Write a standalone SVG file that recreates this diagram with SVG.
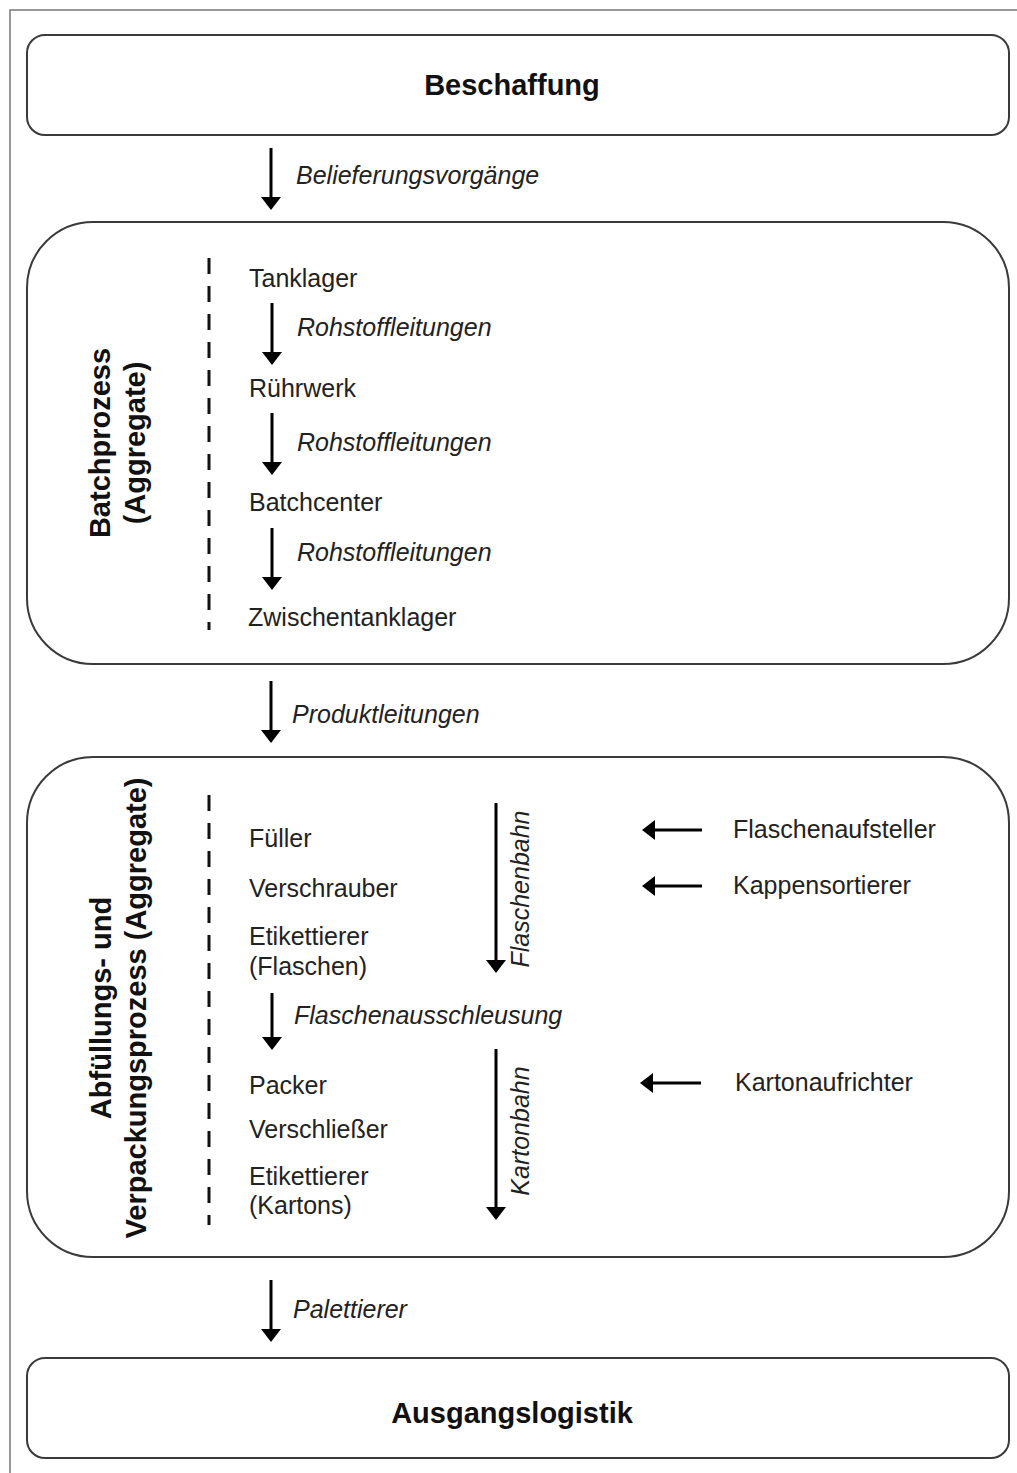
<svg xmlns="http://www.w3.org/2000/svg" width="1017" height="1473" viewBox="0 0 1017 1473">
<style>
.frame{fill:none;stroke:#777;stroke-width:1.5}
.box{fill:#fff;stroke:#3a3a3a;stroke-width:2}
.t{font-family:"Liberation Sans",Arial,sans-serif;font-size:25px;fill:#222}
.b{font-family:"Liberation Sans",Arial,sans-serif;font-size:29px;font-weight:bold;fill:#111}
.i{font-family:"Liberation Sans",Arial,sans-serif;font-size:25px;font-style:italic;fill:#222}
.dash{stroke:#111;stroke-width:3;stroke-dasharray:16 12;fill:none}
.arr{stroke:#000;stroke-width:3;fill:none;marker-end:url(#ah)}
</style>
<defs>
<marker id="ah" viewBox="0 -10 13 20" refX="3" refY="0" markerWidth="13" markerHeight="20" markerUnits="userSpaceOnUse" orient="auto">
<path d="M0,-10 L13,0 L0,10 z" fill="#000"/>
</marker>
</defs>
<rect width="1017" height="1473" fill="#fff"/>
<rect class="frame" x="10" y="10" width="1030" height="1490"/>

<g id="beschaffung">
<rect class="box" x="27" y="35" width="982" height="100" rx="18" ry="18"/>
<text class="b" x="512" y="95" text-anchor="middle">Beschaffung</text>
</g>

<g id="batchprozess">
<rect class="box" x="27" y="222" width="982" height="442" rx="66" ry="66"/>
<text class="b" transform="translate(110,443) rotate(-90)" text-anchor="middle">Batchprozess</text>
<text class="b" transform="translate(145,443) rotate(-90)" text-anchor="middle">(Aggregate)</text>
<line class="dash" x1="209" y1="258" x2="209" y2="630"/>
<text class="t" x="249" y="287">Tanklager</text>
<text class="t" x="249" y="397">Rührwerk</text>
<text class="t" x="249" y="511">Batchcenter</text>
<text class="t" x="248" y="626">Zwischentanklager</text>
</g>

<g id="abfuellung">
<rect class="box" x="27" y="757" width="982" height="500" rx="66" ry="66"/>
<text class="b" transform="translate(111,1008) rotate(-90)" text-anchor="middle">Abfüllungs- und</text>
<text class="b" transform="translate(146,1008) rotate(-90)" text-anchor="middle">Verpackungsprozess (Aggregate)</text>
<line class="dash" x1="209" y1="795" x2="209" y2="1225"/>
<text class="t" x="249" y="847">Füller</text>
<text class="t" x="249" y="897">Verschrauber</text>
<text class="t" x="249" y="945">Etikettierer</text>
<text class="t" x="249" y="975">(Flaschen)</text>
<text class="t" x="249" y="1094">Packer</text>
<text class="t" x="249" y="1138">Verschließer</text>
<text class="t" x="249" y="1185">Etikettierer</text>
<text class="t" x="249" y="1214">(Kartons)</text>
<text class="t" x="733" y="838">Flaschenaufsteller</text>
<text class="t" x="733" y="894">Kappensortierer</text>
<text class="t" x="735" y="1091">Kartonaufrichter</text>
</g>

<g id="ausgangslogistik">
<rect class="box" x="27" y="1358" width="982" height="100" rx="18" ry="18"/>
<text class="b" x="512" y="1423" text-anchor="middle">Ausgangslogistik</text>
</g>

<g id="connectors">
<line class="arr" x1="271" y1="148" x2="271" y2="200"/>
<text class="i" x="296" y="184">Belieferungsvorgänge</text>
<line class="arr" x1="272" y1="303" x2="272" y2="355"/>
<text class="i" x="297" y="336">Rohstoffleitungen</text>
<line class="arr" x1="272" y1="413" x2="272" y2="465"/>
<text class="i" x="297" y="451">Rohstoffleitungen</text>
<line class="arr" x1="272" y1="528" x2="272" y2="580"/>
<text class="i" x="297" y="561">Rohstoffleitungen</text>
<line class="arr" x1="271" y1="681" x2="271" y2="733"/>
<text class="i" x="292" y="723">Produktleitungen</text>
<line class="arr" x1="496" y1="803" x2="496" y2="963"/>
<text class="i" transform="translate(529,889) rotate(-90)" text-anchor="middle">Flaschenbahn</text>
<line class="arr" x1="702" y1="830" x2="652" y2="830"/>
<line class="arr" x1="702" y1="886" x2="652" y2="886"/>
<line class="arr" x1="272" y1="993" x2="272" y2="1040"/>
<text class="i" x="294" y="1024">Flaschenausschleusung</text>
<line class="arr" x1="496" y1="1049" x2="496" y2="1210"/>
<text class="i" transform="translate(529,1131) rotate(-90)" text-anchor="middle">Kartonbahn</text>
<line class="arr" x1="701" y1="1083" x2="650" y2="1083"/>
<line class="arr" x1="271" y1="1280" x2="271" y2="1332"/>
<text class="i" x="293" y="1318">Palettierer</text>
</g>
</svg>
